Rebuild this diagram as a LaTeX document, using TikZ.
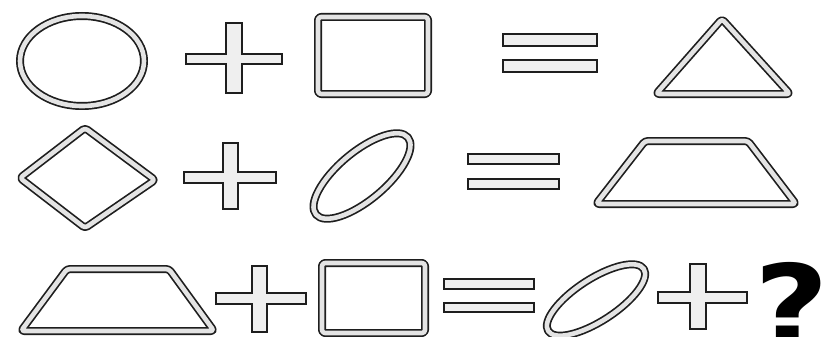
\documentclass[tikz,border=0pt]{standalone}
\usepackage{fontspec}
\newfontfamily\quizfont{DejaVu Sans}
\definecolor{RingInk}{HTML}{1E1E1E}
\definecolor{RingFill}{HTML}{E4E4E4}
\tikzset{
  ring/.style={draw=RingInk,line width=1.7pt,double=RingFill,double distance=4.6pt,
               rounded corners=3pt,line join=round},
  bar/.style={draw=RingInk,line width=1.7pt,fill=RingFill!60,line join=miter},
}

\begin{document}
\begin{tikzpicture}[x=1pt,y=-1pt]
  \useasboundingbox[fill=white] (0,0) rectangle (838,337);

  % row 1: circle + square = triangle
  \draw[ring] (82,61) ellipse [x radius=62, y radius=45];
  \draw[bar] (186,54) -- (226,54) -- (226,23) -- (242,23) -- (242,54) -- (282,54)
    -- (282,64) -- (242,64) -- (242,93) -- (226,93) -- (226,64) -- (186,64) -- cycle;
  \draw[ring] (318,17) rectangle (428,94);
  \draw[bar] (503,34) rectangle (597,46);
  \draw[bar] (503,60) rectangle (597,72);
  \draw[ring] (722,19) -- (790,94) -- (656,94) -- cycle;

  % row 2: diamond + ellipse = trapezoid
  \draw[ring] (20,178) -- (85,128) -- (155,180) -- (85,228) -- cycle;
  \draw[bar] (184,172) -- (223,172) -- (223,143) -- (238,143) -- (238,172) -- (276,172)
    -- (276,183) -- (238,183) -- (238,209) -- (223,209) -- (223,183) -- (184,183) -- cycle;
  \draw[ring,rotate around={40:(362,176)}] (362,176) ellipse [x radius=60, y radius=24];
  \draw[bar] (468,154) rectangle (559,164);
  \draw[bar] (468,179) rectangle (559,189);
  \draw[ring] (645,141) -- (748,141) -- (796,204) -- (596,204) -- cycle;

  % row 3: trapezoid + square = ellipse + ?
  \draw[ring] (67,269) -- (169,269) -- (214,331) -- (21,331) -- cycle;
  \draw[bar] (216,293) -- (252,293) -- (252,266) -- (267,266) -- (267,293) -- (306,293)
    -- (306,304) -- (267,304) -- (267,332) -- (252,332) -- (252,304) -- (216,304) -- cycle;
  \draw[ring] (322,263) rectangle (425,333);
  \draw[bar] (444,279) rectangle (534,289);
  \draw[bar] (444,303) rectangle (534,312);
  \draw[ring,rotate around={33:(596,300)}] (596,300) ellipse [x radius=57, y radius=21];
  \draw[bar] (658,292) -- (690,292) -- (690,264) -- (706,264) -- (706,292) -- (747,292)
    -- (747,303) -- (706,303) -- (706,329) -- (690,329) -- (690,303) -- (658,303) -- cycle;
  \node[anchor=north west,inner sep=0pt,xscale=1.15,
        font=\quizfont\bfseries\fontsize{112}{112}\selectfont] (quiz) at (754,262) {?};
\end{tikzpicture}
\end{document}
